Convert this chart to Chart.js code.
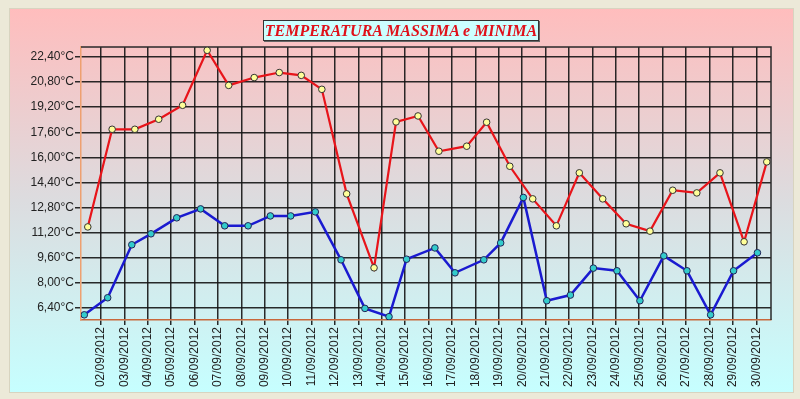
<!DOCTYPE html>
<html>
<head>
<meta charset="utf-8">
<script src="https://cdn.jsdelivr.net/npm/chart.js@4.4.1/dist/chart.umd.min.js"></script>
<style>
  html, body { margin: 0; padding: 0; }
  body { width: 800px; height: 399px; background: #ece9d8; position: relative; overflow: hidden; }
  #panel {
    position: absolute; left: 9px; top: 8px; width: 783px; height: 383px;
    background: linear-gradient(to bottom, #ffbdbd 0%, #dcdcdf 50%, #c6ffff 100%);
    border: 1px solid #d8d4c0;
  }
  #title {
    position: absolute; left: 263px; top: 20px; width: 274px; height: 19px;
    background: #ccffff; border: 1px solid #333; box-shadow: 1px 1px 0 #666;
    color: #e0101a; font: italic bold 16px "Liberation Serif", serif;
    text-align: center; line-height: 20px; white-space: nowrap;
  }
  #wrap { position: absolute; left: 0; top: 0; width: 800px; height: 399px; }
</style>
</head>
<body>
<div id="panel"></div>
<div id="wrap"><canvas id="chart" width="800" height="399"></canvas></div>
<div id="title">TEMPERATURA MASSIMA e MINIMA</div>
<script>
// day of month (with time of day) and temperature of each reading
const maxDays = [1.44, 2.48, 3.45, 4.47, 5.49, 6.54, 7.46, 8.55, 9.62, 10.56,
  11.44, 12.50, 13.67, 14.61, 15.55, 16.44, 17.63, 18.48, 19.47, 20.45,
  21.46, 22.44, 23.44, 24.44, 25.46, 26.43, 27.46, 28.45, 29.48, 30.45];
const maxTemps = [11.56, 17.79, 17.79, 18.43, 19.32, 22.83, 20.59, 21.09, 21.41, 21.23,
  20.34, 13.67, 8.95, 18.26, 18.64, 16.39, 16.71, 18.24, 15.43, 13.35,
  11.63, 15.01, 13.35, 11.76, 11.29, 13.90, 13.73, 15.01, 10.61, 15.71];

const minDays = [1.29, 2.29, 3.32, 4.14, 5.24, 6.26, 7.29, 8.29, 9.24, 10.11,
  11.16, 12.26, 13.28, 14.31, 15.06, 16.27, 17.13, 18.36, 19.08, 20.05,
  21.05, 22.06, 23.04, 24.05, 25.03, 26.05, 27.04, 28.05, 29.03, 30.05];
const minTemps = [5.95, 7.04, 10.42, 11.12, 12.14, 12.71, 11.63, 11.63, 12.26, 12.26,
  12.52, 9.46, 6.36, 5.83, 9.50, 10.22, 8.63, 9.46, 10.54, 13.44,
  6.85, 7.21, 8.93, 8.76, 6.85, 9.71, 8.76, 5.95, 8.76, 9.91];

const xTickDays = [2, 3, 4, 5, 6, 7, 8, 9, 10, 11, 12, 13, 14, 15, 16,
  17, 18, 19, 20, 21, 22, 23, 24, 25, 26, 27, 28, 29, 30];
const yTicks = [6.4, 8.0, 9.6, 11.2, 12.8, 14.4, 16.0, 17.6, 19.2, 20.8, 22.4];

const toPoints = (xs, ys) => xs.map((x, i) => ({ x: x, y: ys[i] }));

// closes the grid box on top and right
const boxEdges = {
  id: "boxEdges",
  beforeDatasetsDraw(chart) {
    const { ctx, chartArea: a } = chart;
    ctx.save();
    ctx.strokeStyle = "#2a2a2a";
    ctx.lineWidth = 1.5;
    ctx.beginPath();
    ctx.moveTo(a.left, a.top);
    ctx.lineTo(a.right, a.top);
    ctx.lineTo(a.right, a.bottom);
    ctx.stroke();
    ctx.restore();
  },
};

const gridColor = "rgba(20,20,20,0.9)";

new Chart(document.getElementById("chart"), {
  type: "line",
  data: {
    datasets: [
      {
        label: "Massima",
        data: toPoints(maxDays, maxTemps),
        borderColor: "#e8141a",
        borderWidth: 2.2,
        pointBackgroundColor: "#ffff99",
        pointBorderColor: "#333",
        pointBorderWidth: 1,
        pointRadius: 3.3,
        tension: 0,
      },
      {
        label: "Minima",
        data: toPoints(minDays, minTemps),
        borderColor: "#1a1ad0",
        borderWidth: 2.5,
        pointBackgroundColor: "#33cccc",
        pointBorderColor: "#225",
        pointBorderWidth: 1,
        pointRadius: 3.3,
        tension: 0,
      },
    ],
  },
  options: {
    responsive: false,
    animation: false,
    layout: { padding: { top: 47, right: 29, left: 0, bottom: 0 } },
    plugins: { legend: { display: false }, tooltip: { enabled: false } },
    scales: {
      x: {
        type: "linear",
        min: 1.15,
        max: 30.63,
        afterBuildTicks: (scale) => { scale.ticks = xTickDays.map((v) => ({ value: v })); },
        afterFit: (scale) => { scale.height = 79; },
        grid: { color: gridColor, lineWidth: 1.5, tickLength: 5 },
        border: { color: "#c8683c", width: 1.5 },
        ticks: {
          minRotation: 90,
          maxRotation: 90,
          autoSkip: false,
          padding: 2,
          color: "#222",
          font: { family: "Liberation Sans", size: 12 },
          callback: (v) => String(v).padStart(2, "0") + "/09/2012",
        },
      },
      y: {
        min: 5.62,
        max: 23.04,
        afterBuildTicks: (scale) => { scale.ticks = yTicks.map((v) => ({ value: v })); },
        afterFit: (scale) => { scale.width = 81; },
        grid: { color: gridColor, lineWidth: 1.5, tickLength: 6 },
        border: { color: "#eea070", width: 1.5 },
        ticks: {
          padding: 1,
          color: "#222",
          font: { family: "Liberation Sans", size: 12 },
          callback: (v) => v.toFixed(2).replace(".", ",") + "°C",
        },
      },
    },
  },
  plugins: [boxEdges],
});
</script>
</body>
</html>
